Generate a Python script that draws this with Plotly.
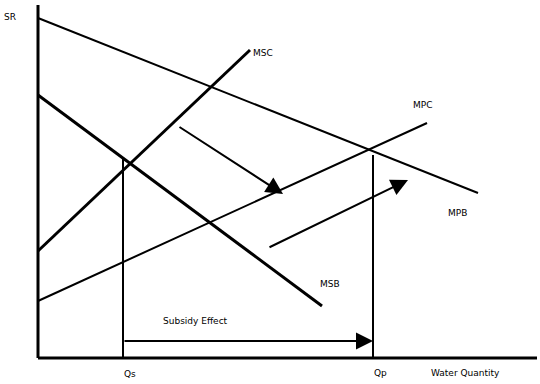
import plotly.graph_objects as go

# Curves: quantity (x) and price (y) endpoints, in diagram units
mpb_q = [0, 440]; mpb_p = [340, 165]
msc_q = [0, 212]; msc_p = [107, 308]
mpc_q = [0, 389]; mpc_p = [57, 235]
msb_q = [0, 284]; msb_p = [263, 52]

qs = 85
qp = 335
qs_top = 200
qp_top = 203

curve_labels = {"MSC": (225, 305), "MPC": (384, 253), "MPB": (419, 145), "MSB": (292, 74)}

fig = go.Figure()

def seg(x, y, w):
    fig.add_trace(go.Scatter(x=x, y=y, mode="lines", line=dict(color="black", width=w),
                             hoverinfo="skip", showlegend=False))

# axes
seg([0, 0], [0, 353], 3)
seg([0, 499], [0, 0], 3)
# curves
seg(mpb_q, mpb_p, 2)
seg(msc_q, msc_p, 3)
seg(mpc_q, mpc_p, 2)
seg(msb_q, msb_p, 3)
# quantity verticals
seg([qs, qs], [0, qs_top], 2)
seg([qp, qp], [0, qp_top], 2)

def arrow(x0, y0, x1, y1):
    fig.add_annotation(x=x1, y=y1, ax=x0, ay=y0, xref="x", yref="y", axref="x", ayref="y",
                       showarrow=True, arrowhead=2, arrowsize=1.7, arrowwidth=2,
                       arrowcolor="black", text="")

arrow(qs, 17, qp, 17)
arrow(140, 232, 245, 164)
arrow(230, 110, 370, 178)

font = dict(family="DejaVu Sans", size=9, color="black")
for name, (x, y) in curve_labels.items():
    fig.add_annotation(x=x, y=y, text=name, showarrow=False, font=font)
fig.add_annotation(x=-28, y=341, text="SR", showarrow=False, font=font)
fig.add_annotation(x=157, y=37, text="Subsidy Effect", showarrow=False, font=font)
fig.add_annotation(x=92, y=-16, text="Qs", showarrow=False, font=font)
fig.add_annotation(x=342, y=-15, text="Qp", showarrow=False, font=font)
fig.add_annotation(x=427, y=-15, text="Water Quantity", showarrow=False, font=font)

fig.update_layout(width=540, height=384, margin=dict(l=0, r=0, t=0, b=0),
                  paper_bgcolor="white", plot_bgcolor="white",
                  xaxis=dict(range=[-38, 502], visible=False),
                  yaxis=dict(range=[-26, 358], visible=False))
fig.write_html("out.html")
